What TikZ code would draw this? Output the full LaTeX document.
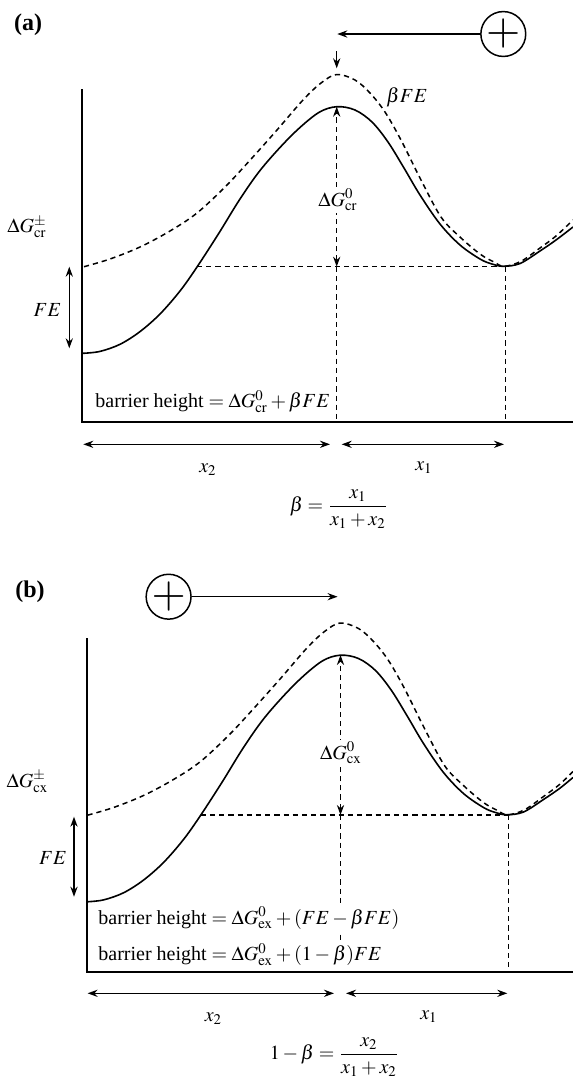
\documentclass[tikz,border=0pt]{standalone}
\usepackage{amsmath}
\usepackage{mathptmx}
\usepackage[no-math]{fontspec}
\setmainfont{Liberation Serif}
\usepackage{tikz}
\usetikzlibrary{arrows.meta}

\begin{document}
\begin{tikzpicture}[x=0.5pt,y=-0.5pt,
  axis/.style={line width=0.85pt},
  energy/.style={line width=0.8pt},
  shifted/.style={line width=0.75pt, dash pattern=on 2.6pt off 2pt},
  guide/.style={line width=0.7pt, dash pattern=on 2.6pt off 2pt},
  arr/.style={line width=0.7pt, -{Stealth[length=5pt,width=3.6pt]}},
  dbl/.style={line width=0.7pt, {Stealth[length=5pt,width=3.6pt]}-{Stealth[length=5pt,width=3.6pt]}},
  ion/.style={draw, circle, line width=0.75pt, minimum size=22pt, inner sep=0pt, font=\fontsize{22}{22}\selectfont},
  lbl/.style={font=\fontsize{10}{12}\selectfont, inner sep=1pt},
  tag/.style={font=\fontsize{12}{14}\selectfont\bfseries, inner sep=0pt}]

\useasboundingbox (0,0) rectangle (573,1084);

% (a)
\coordinate (A0) at (82.3,89.3);
\coordinate (AO) at (82.3,422.3);
\coordinate (AE) at (573,422.3);
\coordinate (Apeak) at (336.7,106.7);
\coordinate (Alev) at (336.7,266.7);
\coordinate (Across) at (197,266.7);
\coordinate (Amin) at (505.7,266.7);
\coordinate (Abase) at (336.7,422.3);
\coordinate (Aminbase) at (505.7,422.3);

\draw[axis] (A0) -- (AO) -- (AE);

\draw[energy] plot[smooth, tension=0.55] coordinates {(83,353.3) (100,351.4) (120,344.3) (140,331.6) (160,314) (180,291) (197,267) (219,233) (240,199) (262,168) (292,135) (318,113) (336.7,106.7) (355,110) (372,122) (388,142) (404,168) (420,195) (440,224) (460,245) (480,259) (492,264) (503.3,266.3) (520,263.5) (540,251) (556,240) (573,227)};
\draw[shifted] plot[smooth, tension=0.55] coordinates {(84,266.7) (110,259) (140,247) (170,231) (197,213) (226,186) (252,158) (277,130) (303,100) (321,83) (336.7,74.5) (355,80) (370,93) (385,112) (401,140) (420,178) (441,217) (460,237) (480,254) (494,262) (504,266.3) (521,261.3) (540,248) (556,236) (573,220)};

\draw[guide] (Across) -- (Amin);
\draw[guide] (Alev) -- (Abase);
\draw[guide] (Amin) -- (Aminbase);
\draw[guide, dbl] (Alev) -- (Apeak);

\node[ion] (Aion) at (503.3,34) {$+$};
\coordinate (Ahit) at (337.3,34);
\draw[arr] (Aion) -- (Ahit);
\coordinate (Adrop) at (336.7,51);
\coordinate (Adroptip) at (336.7,68.3);
\draw[arr] (Adrop) -- (Adroptip);

\coordinate (AFEtop) at (69.3,266.7);
\coordinate (AFEbot) at (69.3,348.3);
\draw[dbl] (AFEtop) -- (AFEbot);

\coordinate (Ax2l) at (83.3,444.3);
\coordinate (Ax2r) at (330,444.3);
\coordinate (Ax1l) at (341.7,444.3);
\coordinate (Ax1r) at (504,444.3);
\draw[dbl] (Ax2l) -- (Ax2r);
\draw[dbl] (Ax1l) -- (Ax1r);

\node[tag] (Atag) at (28,25) {(a)};
\node[lbl] (Afield) at (407,97) {$\beta FE$};
\node[lbl, fill=white] (Adg) at (338,200) {$\Delta G^{0}_{\mathrm{cr}}$};
\node[lbl] (Adgts) at (27,227) {$\Delta G^{\pm}_{\mathrm{cr}}$};
\node[lbl] (Afe) at (47.5,310) {$FE$};
\node[lbl, fill=white, anchor=base west] (Abarrier) at (93,407.3) {barrier height $=\Delta G^{0}_{\mathrm{cr}}+\beta FE$};
\node[lbl] (Ax2) at (208,470) {$x_2$};
\node[lbl] (Ax1) at (424,467.5) {$x_1$};
\node[lbl] (Abeta) at (339,509) {$\displaystyle\beta=\frac{x_1}{x_1+x_2}$};

% (b)
\coordinate (B0) at (86.9,638.3);
\coordinate (BO) at (86.9,971.7);
\coordinate (BE) at (573,971.7);
\coordinate (Bpeak) at (340.5,655);
\coordinate (Blev) at (340.5,815);
\coordinate (Bcross) at (200.7,815);
\coordinate (Bmin) at (508.3,815);
\coordinate (Bbase) at (340.5,971.7);
\coordinate (Bminbase) at (508.3,971.7);

\draw[axis] (B0) -- (BO) -- (BE);

\begin{scope}[shift={(3.5,548.5)}]
\draw[energy] plot[smooth, tension=0.55] coordinates {(83,353.3) (100,351.4) (120,344.3) (140,331.6) (160,314) (180,291) (197,267) (219,233) (240,199) (262,168) (292,135) (318,113) (336.7,106.7) (355,110) (372,122) (388,142) (404,168) (420,195) (440,224) (460,245) (480,259) (492,264) (503.3,266.3) (520,263.5) (540,251) (556,240) (569.5,229)};
\draw[shifted] plot[smooth, tension=0.55] coordinates {(84,266.7) (110,259) (140,247) (170,231) (197,213) (226,186) (252,158) (277,130) (303,100) (321,83) (336.7,74.5) (355,80) (370,93) (385,112) (401,140) (420,178) (441,217) (460,237) (480,254) (494,262) (504,266.3) (521,261.3) (540,248) (556,236) (569.5,223)};
\end{scope}

\draw[guide] (Bcross) -- (Bmin);
\draw[guide] (Blev) -- (Bbase);
\draw[guide] (Bmin) -- (Bminbase);
\draw[guide, dbl] (Blev) -- (Bpeak);

\node[ion] (Bion) at (168.6,596.7) {$+$};
\coordinate (Bhit) at (337.6,596.7);
\draw[arr] (Bion) -- (Bhit);

\coordinate (BFEtop) at (74,816.7);
\coordinate (BFEbot) at (74,896.7);
\draw[dbl] (BFEtop) -- (BFEbot);

\coordinate (Bx2l) at (87.6,993.3);
\coordinate (Bx2r) at (334,993.3);
\coordinate (Bx1l) at (346,993.3);
\coordinate (Bx1r) at (507.3,993.3);
\draw[dbl] (Bx2l) -- (Bx2r);
\draw[dbl] (Bx1l) -- (Bx1r);

\node[tag] (Btag) at (30,591.7) {(b)};
\node[lbl, fill=white] (Bdg) at (341,753) {$\Delta G^{0}_{\mathrm{cx}}$};
\node[lbl] (Bdgts) at (27.4,781.7) {$\Delta G^{\pm}_{\mathrm{cx}}$};
\node[lbl] (Bfe) at (53,858) {$FE$};
\node[lbl, fill=white, anchor=base west] (Bbarrier) at (96,924) {barrier height $=\Delta G^{0}_{\mathrm{ex}}+(FE-\beta FE)$};
\node[lbl, fill=white, anchor=base west] (Bbarriertoo) at (96,960.7) {barrier height $=\Delta G^{0}_{\mathrm{ex}}+(1-\beta)FE$};
\node[lbl] (Bx2) at (213.5,1018.3) {$x_2$};
\node[lbl] (Bx1) at (429,1016.7) {$x_1$};
\node[lbl] (Bbeta) at (334.5,1057) {$\displaystyle 1-\beta=\frac{x_2}{x_1+x_2}$};

\end{tikzpicture}
\end{document}
